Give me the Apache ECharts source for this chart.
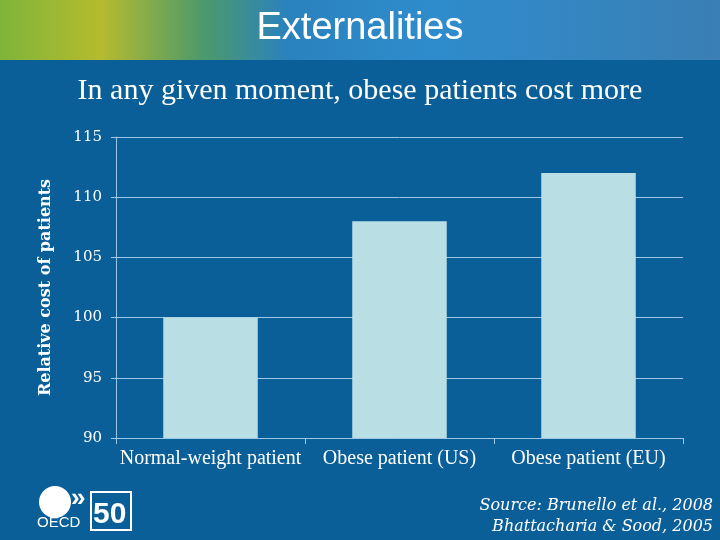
<!DOCTYPE html>
<html><head><meta charset="utf-8">
<script src="https://cdn.jsdelivr.net/npm/echarts@6/dist/echarts.min.js"></script>
<style>html,body{margin:0;padding:0;background:#0a5f98;}#c{width:720px;height:540px;}</style>
</head><body><div id="c"></div>
<script>
const categories = ['Normal-weight patient', 'Obese patient (US)', 'Obese patient (EU)'];
const values = [100, 108, 112];
const yTicks = [90, 95, 100, 105, 110, 115];
const titleText = 'Externalities';
const subtitleText = 'In any given moment, obese patients cost more';
const yAxisName = 'Relative cost of patients';
const sourceLines = ['Source: Brunello et al., 2008', 'Bhattacharia & Sood, 2005'];

const chart = echarts.init(document.getElementById('c'), null, {renderer: 'canvas'});
const lineCol = '#9cc9e8';
chart.setOption({
  backgroundColor: '#0a5f98',
  animation: false,
  graphic: [
    {type: 'rect', shape: {x: 0, y: 0, width: 720, height: 60}, z: 0,
     style: {fill: new echarts.graphic.LinearGradient(0, 0, 1, 0, [
       {offset: 0, color: '#7fb43a'}, {offset: 0.14, color: '#b5bb2e'},
       {offset: 0.28, color: '#4e9a6a'}, {offset: 0.4, color: '#2a82bd'},
       {offset: 0.6, color: '#2f8ccc'}, {offset: 1, color: '#3a7fb5'}])}},
    {type: 'text', left: 'center', top: 10, z: 10,
     style: {text: titleText, fill: '#ffffff', font: '38px "Liberation Sans", Arial, sans-serif'}},
    {type: 'text', left: 'center', top: 76, z: 10,
     style: {text: subtitleText, fill: '#ffffff', font: '30px "Liberation Serif", "Times New Roman", serif'}},
    {type: 'text', right: 7, top: 498, z: 10,
     style: {text: sourceLines[0], fill: '#ffffff', font: 'italic 16px "DejaVu Serif", Georgia, serif', align: 'right'}},
    {type: 'text', right: 7, top: 519, z: 10,
     style: {text: sourceLines[1], fill: '#ffffff', font: 'italic 16px "DejaVu Serif", Georgia, serif', align: 'right'}},
    // OECD logo approximation
    {type: 'circle', shape: {cx: 55, cy: 502, r: 16}, style: {fill: '#ffffff'}, z: 10},
    {type: 'text', left: 37, top: 515, z: 10, style: {text: 'OECD', fill: '#ffffff', font: '15px "Liberation Sans", Arial, sans-serif'}},
    {type: 'text', left: 71, top: 486, z: 10, style: {text: '»', fill: '#ffffff', font: 'bold 26px "Liberation Sans", Arial, sans-serif'}},
    {type: 'rect', shape: {x: 91, y: 492, width: 40, height: 38}, style: {fill: 'none', stroke: '#ffffff', lineWidth: 2}, z: 10},
    {type: 'text', left: 93, top: 500, z: 11, style: {text: '50', fill: '#ffffff', font: 'bold 30px "Liberation Sans", Arial, sans-serif'}}
  ],
  grid: {left: 116, right: 37, top: 137, bottom: 102},
  xAxis: {
    type: 'category', data: categories,
    axisLine: {lineStyle: {color: lineCol, width: 1}},
    axisTick: {show: true, length: 6, lineStyle: {color: lineCol}},
    axisLabel: {interval: 0, color: '#ffffff', fontFamily: '"Liberation Serif", "Times New Roman", serif', fontSize: 20, margin: 11}
  },
  yAxis: {
    type: 'value', min: 90, max: 115, interval: 5,
    name: yAxisName, nameLocation: 'middle', nameGap: 62,
    nameTextStyle: {color: '#ffffff', fontFamily: '"DejaVu Serif", Georgia, serif', fontWeight: 'bold', fontSize: 16},
    axisLine: {show: true, lineStyle: {color: lineCol, width: 1}},
    axisTick: {show: true, length: 5, lineStyle: {color: lineCol}},
    splitLine: {lineStyle: {color: lineCol, width: 1}},
    axisLabel: {color: '#ffffff', fontFamily: '"DejaVu Serif", Georgia, serif', fontSize: 15, margin: 14,
      formatter: v => yTicks.includes(v) ? String(v) : ''}
  },
  series: [{type: 'bar', data: values, barWidth: '50%', itemStyle: {color: '#b9dfe5'}}]
});
</script></body></html>
